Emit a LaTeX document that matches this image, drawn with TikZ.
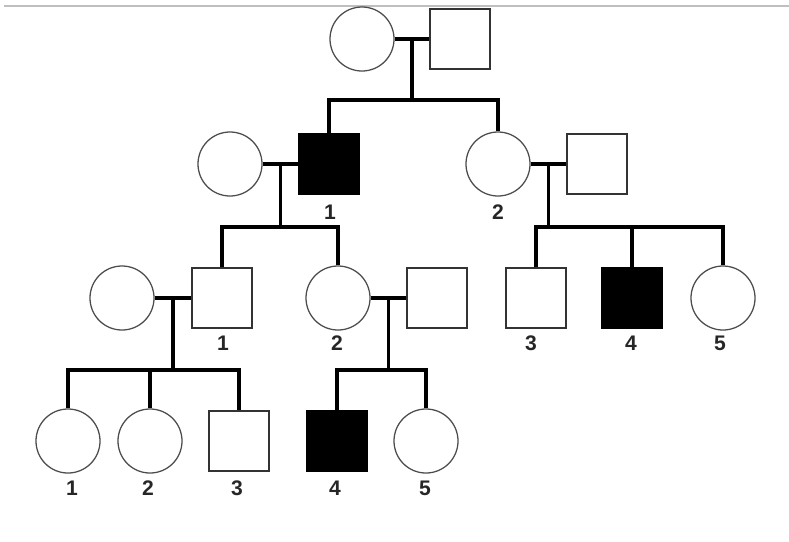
\documentclass[tikz,border=0pt]{standalone}
\usepackage{fontspec}
\setsansfont{Liberation Sans}
\usetikzlibrary{positioning,calc}

\begin{document}
\begin{tikzpicture}[x=0.025cm, y=-0.025cm,
    female/.style={circle, draw=black!70, line width=0.9pt, fill=white,
                   minimum size=1.6cm, inner sep=0pt},
    male/.style={rectangle, draw=black!80, line width=0.9pt, fill=white,
                 minimum size=1.5cm, inner sep=0pt},
    affected/.style={fill=black, draw=black},
    link/.style={line width=2.4pt, black},
    num/.style={font=\sffamily\bfseries\fontsize{15}{15}\selectfont, inner sep=0pt, text=black!85}
]
    \useasboundingbox (0,0) rectangle (789,541);
    \draw[black!25, line width=1.5pt] (4,6) -- (789,6);

    % Generation I
    \node[female] (i1) at (362,39) {};
    \node[male] (i2) at (460,39) {};

    % Generation II
    \node[female] (wii1) at (230,164) {};
    \node[male, affected] (ii1) at (329,164) {};
    \node[female] (ii2) at (498,164) {};
    \node[male] (hii2) at (597,164) {};

    % Generation III
    \node[female] (wiii1) at (122,298) {};
    \node[male] (iii1) at (222,298) {};
    \node[female] (iii2) at (338,298) {};
    \node[male] (hiii2) at (437,298) {};
    \node[male] (iii3) at (536,298) {};
    \node[male, affected] (iii4) at (632,298) {};
    \node[female] (iii5) at (723,298) {};

    % Generation IV
    \node[female] (iv1) at (68,441) {};
    \node[female] (iv2) at (150,441) {};
    \node[male] (iv3) at (239,441) {};
    \node[male, affected] (iv4) at (337,441) {};
    \node[female] (iv5) at (426,441) {};

    % Marriages
    \draw[link] (i1) -- (i2);
    \draw[link] (wii1) -- (ii1);
    \draw[link] (ii2) -- (hii2);
    \draw[link] (wiii1) -- (iii1);
    \draw[link] (iii2) -- (hiii2);
    \coordinate (m1) at ($(i1.east)!0.5!(i2.west)$);
    \coordinate (m2) at ($(wii1.east)!0.5!(ii1.west)$);
    \coordinate (m3) at ($(ii2.east)!0.5!(hii2.west)$);
    \coordinate (m4) at ($(wiii1.east)!0.5!(iii1.west)$);
    \coordinate (m5) at ($(iii2.east)!0.5!(hiii2.west)$);

    % Sibships
    \path (m1) ++(0,61) coordinate (s1);
    \path (m2) ++(0,63) coordinate (s2);
    \path (m3) ++(0,63) coordinate (s3);
    \path (m4) ++(0,72) coordinate (s4);
    \path (m5) ++(0,72) coordinate (s5);
    \draw[link] (m1) -- (s1);
    \draw[link] (m2) -- (s2);
    \draw[link] (m3) -- (s3);
    \draw[link] (m4) -- (s4);
    \draw[link] (m5) -- (s5);
    \draw[link] (ii1.north) |- (s1) -| (ii2.north);
    \draw[link] (iii1.north) |- (s2) -| (iii2.north);
    \draw[link] (iii3.north) |- (s3) -| (iii5.north);
    \draw[link] (iii4.north) -- (iii4.north |- s3);
    \draw[link] (iv1.north) |- (s4) -| (iv3.north);
    \draw[link] (iv2.north) -- (iv2.north |- s4);
    \draw[link] (iv4.north) |- (s5) -| (iv5.north);

    % Labels
    \node[num] (lii1) at (330,212) {1};
    \node[num] (lii2) at (498,212) {2};
    \node[num] (liii1) at (223,343) {1};
    \node[num] (liii2) at (337,343) {2};
    \node[num] (liii3) at (531,343) {3};
    \node[num] (liii4) at (631,343) {4};
    \node[num] (liii5) at (720,343) {5};
    \node[num] (liv1) at (72,488) {1};
    \node[num] (liv2) at (148,488) {2};
    \node[num] (liv3) at (237,488) {3};
    \node[num] (liv4) at (335,488) {4};
    \node[num] (liv5) at (425,488) {5};
\end{tikzpicture}
\end{document}
